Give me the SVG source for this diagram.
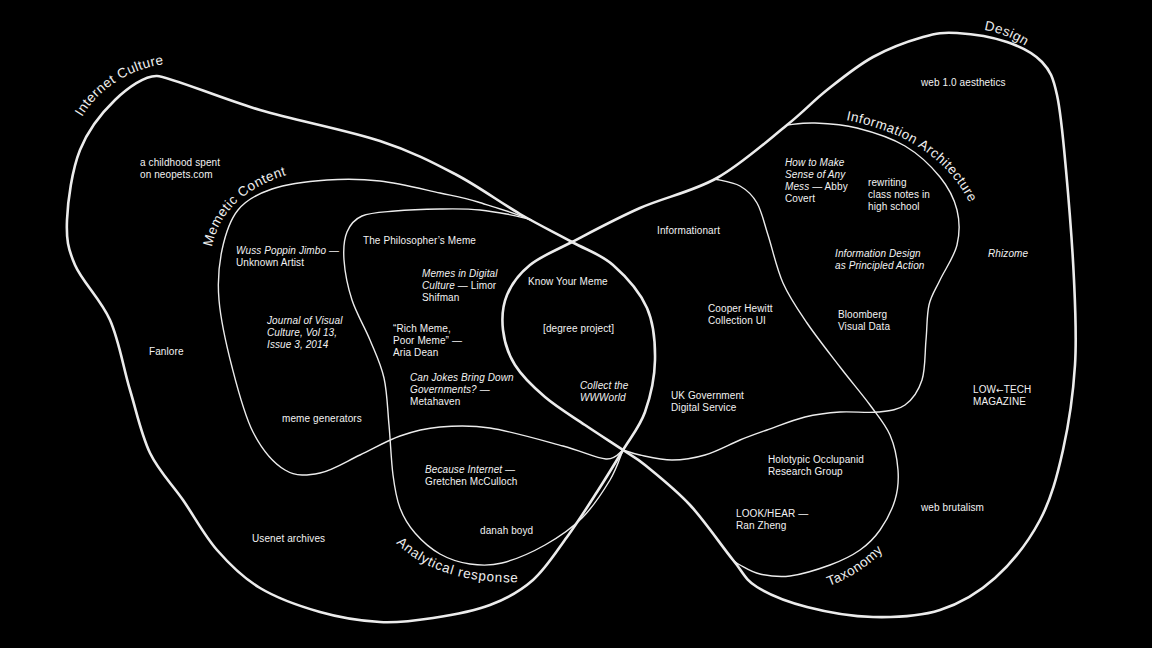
<svg xmlns="http://www.w3.org/2000/svg" width="1152" height="648" viewBox="0 0 1152 648">
<defs>
<style>
.thick{fill:none;stroke:#ececec;stroke-width:2.6;stroke-linejoin:round;stroke-linecap:round}
.thin{fill:none;stroke:#ececec;stroke-width:1.4;stroke-linecap:round}
.lbl{font-family:"Liberation Sans",Arial,sans-serif;font-size:13.5px;letter-spacing:0.5px;fill:#eeeeee}
.t{font-family:"Liberation Sans",Arial,sans-serif;font-size:10px;letter-spacing:0.1px;fill:#f2f2f2}
.i{font-style:italic}
.arr{font-family:"DejaVu Sans",sans-serif;font-size:9px}
</style>
<path id="p-ic" d="M82,117 C98,90 128,68 171,63"/>
<path id="p-mc" d="M212,247 C218,215 243,185 298,172"/>
<path id="p-ia" d="M846,120 C895,130 945,150 972,208"/>
<path id="p-de" d="M984,30 Q1008,34 1030,49"/>
<path id="p-ar" d="M396,543 Q440,586 528,582"/>
<path id="p-tx" d="M829,586 Q862,574 887,547"/>
</defs>
<rect width="1152" height="648" fill="#000"/>

<g id="internet-culture">
<path class="thick" d="M157,76 C169,76.5 222.8,99.2 260,110 S347.5,130.3 380,141 S431.7,161.8 455,174 S500.5,202.7 520,214 S556.5,233.5 572,242 S600.5,254 613,265 S640,292.2 647,308 S655.3,342.7 655,360 S650.3,397 645,412 S631,436.7 623,450 S606.3,477.5 597,492 S577.7,522.3 567,537 S545.8,568.7 533,580 S506.7,598.7 490,605 S451.3,615.2 433,618 S398.8,623 380,622 S340,617.7 320,612 S277.2,598.3 260,588 S229.8,564.7 217,550 S194.2,516.2 183,500 S158.8,471.3 150,453 S136.7,412.2 130,390 S119.2,340.8 110,320 S82.2,281.7 75,265 S66.2,239.2 67,220 S72,170 80,150 S102.2,112.3 115,100 S145,75.5 157,76 Z"/>
<text class="lbl"><textPath href="#p-ic">Internet Culture</textPath></text>
</g>

<g id="design">
<path class="thick" d="M957,33 C971,33.8 992.8,37.2 1007,42 S1033.7,53.2 1042,62 S1053,77 1057,95 S1063.2,139.2 1066,170 S1072.5,247.5 1074,280 S1076.8,336.7 1075,365 S1068.8,424.2 1063,450 S1051.3,498.7 1040,520 S1011.7,563 995,578 S960.3,603.5 940,610 S895.2,617.5 873,617 S826.3,612 807,607 S769.3,594.8 757,587 S744.2,573.7 733,560 S704.7,520.8 690,505 S656.2,474.2 645,465 S633,456.7 623,450 S598,433.8 585,425 S556.7,407 545,397 S522,376.2 515,365 S504.3,341.7 503,330 S502.5,305.8 507,295 S519.2,273.8 530,265 S553.7,251.5 572,242 S615.8,218.7 640,208 S692.5,191.8 717,178 S768.7,139.7 787,125 S812.7,101.3 827,90 S857,65.8 873,57 S909,41 923,37 S943,32.2 957,33 Z"/>
<text class="lbl"><textPath href="#p-de">Design</textPath></text>
</g>

<g id="memetic-content">
<path class="thin" d="M531,220 C520,214.5 491.3,206.2 478,202 S456.3,196.5 440,193 S398.8,183.2 380,181 S345,178.7 327,180 S286.8,184 272,189 S246.3,199.8 238,210 S225.2,235 222,250 S217.3,280.5 219,300 S226.3,345 232,367 S244.2,414.8 253,432 S273.8,463.2 285,470 S307.5,475.5 320,473 S346.7,461.2 360,455 S386.7,440.7 400,436 S425,428.3 440,427 S469.5,424.8 490,428 S543.7,440.8 563,446 S596,458.3 606,459 S620.2,451.5 623,450"/>
<text class="lbl"><textPath href="#p-mc">Memetic Content</textPath></text>
</g>

<g id="analytical-response">
<path class="thin" d="M531,220 C520,216 493.3,211.5 480,210 S454.2,208.8 440,209 S408,209.8 395,211 S370,212.5 362,216 S350,224.7 347,232 S343.2,248.7 344,260 S347.7,286.7 352,300 S364.7,327 370,340 S380.8,363.8 384,378 S387.5,408.8 389,425 S391.2,461.2 393,475 S396.3,498.3 400,508 S408.3,525.3 415,533 S430.8,548.8 440,554 S459.7,562.5 470,564 S489.5,566.2 502,563 S531.7,552.5 545,545 S571.2,528.8 582,518 S603.2,491.3 610,480 S620.8,455 623,450"/>
<text class="lbl" style="letter-spacing:0.8px"><textPath href="#p-ar">Analytical response</textPath></text>
</g>

<g id="information-architecture">
<path class="thin" d="M787,125 C791.7,124.7 803.3,122.5 815,123 S842,124.2 857,128 S891.2,137.8 905,146 S931.3,166.3 940,177 S954.2,198.7 957,210 S959.8,233.3 957,245 S944.7,270 940,280 S931.3,295 929,305 S927.2,327.5 926,340 S925.5,369.2 922,380 S912.3,399.7 905,405 S888.8,410.8 878,412 S852.2,411.2 840,412 S817.2,414 805,417 S777.8,426.2 767,430 S750.3,435.8 740,440 S716.3,451.7 705,455 S682.8,460 672,460 S648.2,456.7 640,455 S625.8,450.8 623,450"/>
<text class="lbl"><textPath href="#p-ia">Information Architecture</textPath></text>
</g>

<g id="taxonomy">
<path class="thin" d="M715,179 C719.2,180.2 733,182 740,186 S752.3,194.8 757,203 S763.7,221.7 768,235 S776.5,268.3 783,283 S797.5,309 807,323 S829.5,353.3 840,367 S861.7,393.7 870,405 S885.3,424.2 890,435 S897.2,459.2 898,470 S898,490 895,500 S885.8,521.7 880,530 S868.3,544.2 860,550 S841.7,560.7 830,565 S801.7,574.5 790,576 S768.3,575.8 760,574 S744.5,567.3 740,565 S734.2,560.8 733,560"/>
<text class="lbl"><textPath href="#p-tx">Taxonomy</textPath></text>
</g>

<g id="neopets"><text class="t" x="140" y="166">a childhood spent<tspan x="140" y="178">on neopets.com</tspan></text></g>
<g id="wuss-poppin"><text class="t" x="236" y="254"><tspan class="i">Wuss Poppin Jimbo</tspan> —<tspan x="236" y="266">Unknown Artist</tspan></text></g>
<g id="philosophers-meme"><text class="t" x="363" y="244">The Philosopher’s Meme</text></g>
<g id="memes-digital"><text class="t" x="422" y="277"><tspan class="i">Memes in Digital</tspan><tspan x="422" y="289"><tspan class="i">Culture</tspan> — Limor</tspan><tspan x="422" y="301">Shifman</tspan></text></g>
<g id="journal"><text class="t i" x="267" y="324">Journal of Visual<tspan x="267" y="336">Culture, Vol 13,</tspan><tspan x="267" y="348">Issue 3, 2014</tspan></text></g>
<g id="rich-meme"><text class="t" x="393" y="332">“Rich Meme,<tspan x="393" y="344">Poor Meme” —</tspan><tspan x="393" y="356">Aria Dean</tspan></text></g>
<g id="can-jokes"><text class="t" x="410" y="381"><tspan class="i">Can Jokes Bring Down</tspan><tspan x="410" y="393"><tspan class="i">Governments?</tspan> —</tspan><tspan x="410" y="405">Metahaven</tspan></text></g>
<g id="meme-generators"><text class="t" x="282" y="422">meme generators</text></g>
<g id="fanlore"><text class="t" x="149" y="355">Fanlore</text></g>
<g id="usenet"><text class="t" x="252" y="542">Usenet archives</text></g>
<g id="know-your-meme"><text class="t" x="528" y="285">Know Your Meme</text></g>
<g id="degree-project"><text class="t" x="543" y="332">[degree project]</text></g>
<g id="collect-wwworld"><text class="t i" x="580" y="389">Collect the<tspan x="580" y="401">WWWorld</tspan></text></g>
<g id="because-internet"><text class="t" x="425" y="473"><tspan class="i">Because Internet</tspan> —<tspan x="425" y="485">Gretchen McCulloch</tspan></text></g>
<g id="danah-boyd"><text class="t" x="480" y="534">danah boyd</text></g>
<g id="informationart"><text class="t" x="657" y="234">Informationart</text></g>
<g id="cooper-hewitt"><text class="t" x="708" y="312">Cooper Hewitt<tspan x="708" y="324">Collection UI</tspan></text></g>
<g id="uk-gds"><text class="t" x="671" y="399">UK Government<tspan x="671" y="411">Digital Service</tspan></text></g>
<g id="how-to-make-sense"><text class="t" x="785" y="166"><tspan class="i">How to Make</tspan><tspan x="785" y="178" class="i">Sense of Any</tspan><tspan x="785" y="190"><tspan class="i">Mess</tspan> — Abby</tspan><tspan x="785" y="202">Covert</tspan></text></g>
<g id="rewriting-notes"><text class="t" x="868" y="186">rewriting<tspan x="868" y="198">class notes in</tspan><tspan x="868" y="210">high school</tspan></text></g>
<g id="web-1-0"><text class="t" x="921" y="86">web 1.0 aesthetics</text></g>
<g id="info-design"><text class="t i" x="835" y="257">Information Design<tspan x="835" y="269">as Principled Action</tspan></text></g>
<g id="bloomberg"><text class="t" x="838" y="318">Bloomberg<tspan x="838" y="330">Visual Data</tspan></text></g>
<g id="rhizome"><text class="t i" x="988" y="257">Rhizome</text></g>
<g id="low-tech"><text class="t" x="973" y="393">LOW<tspan class="arr">←</tspan>TECH<tspan x="973" y="405">MAGAZINE</tspan></text></g>
<g id="holotypic"><text class="t" x="768" y="463">Holotypic Occlupanid<tspan x="768" y="475">Research Group</tspan></text></g>
<g id="look-hear"><text class="t" x="736" y="517">LOOK/HEAR —<tspan x="736" y="529">Ran Zheng</tspan></text></g>
<g id="web-brutalism"><text class="t" x="921" y="511">web brutalism</text></g>
</svg>
